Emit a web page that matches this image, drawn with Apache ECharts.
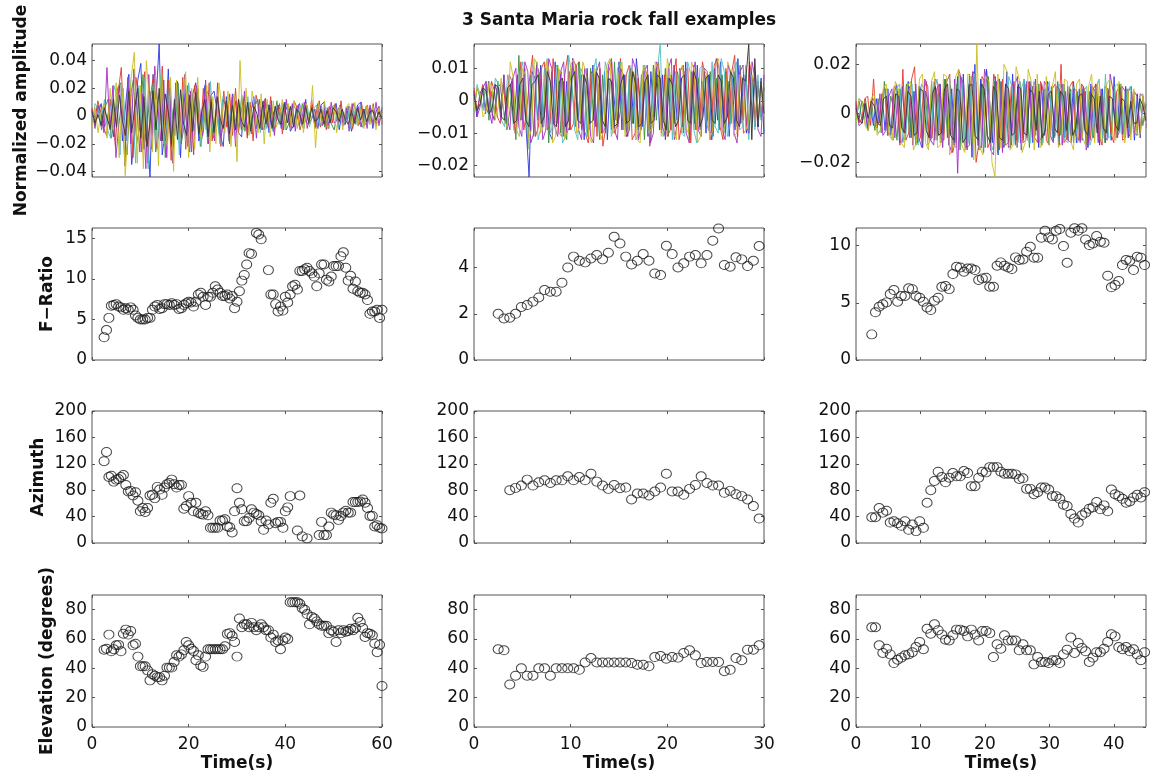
<!DOCTYPE html>
<html>
<head>
<meta charset="utf-8">
<script src="https://cdn.jsdelivr.net/npm/echarts@6/dist/echarts.min.js"></script>
<style>
  html, body { margin: 0; padding: 0; background: #fff; }
  #chart { width: 1158px; height: 779px; }
</style>
</head>
<body>
<div id="chart"></div>
<script>
// ---------------------------------------------------------------
// Data: three rock-fall events recorded at Santa Maria.
// Record lengths (s) and time-axis ticks for each event.
const durations = [60, 30, 45];
const timeTicks = [[0, 20, 40, 60], [0, 10, 20, 30], [0, 10, 20, 30, 40]];
// Analysis windows: first window centre and hop (s) for each event.
const windowStart = [2.5, 2.5, 2.45];
const windowStep = [0.5, 0.6, 0.572];

// Normalized amplitude of the station traces, in units of 1e-3.
const AMP_UNIT = 0.001;
const traceColors = ['#2a35e6', '#3b8c3b', '#e2382a', '#4fbcc4', '#a42cc2', '#c9bd1e', '#3e3e3e'];

const wave1 = [
  [4,-7,2,9,-8,-3,12,-15,6,22, -18,8,30,-35,-12,26,38,-24,-6,-44, 30,12,52,-28,-10,34,-22,4,25,-30,
   20,-6,-26,16,24,-18,-8,22,-20,15, 18,3,-14,-22,14,-6,16,10,-12,-15, 8,-10,2,14,-9,-6,11,7,-12,6,
   -3,8,-9,10,4,-11,-7,6,9,-8, 12,-6,-2,5,-9,8,10,-7,-3,6, 9,-10,4,-6,7,-11,-2,8,10,-7, -5,6,-9,3,7,-4],
  [-5,3,8,-10,6,12,-16,-4,20,24, -9,-28,14,26,-20,-8,30,-18,12,22, -26,-10,28,-30,18,6,-14,24,-20,-6,
   22,-16,10,20,-22,-10,18,14,-16,4, -14,12,8,-18,10,-3,-8,15,-11,9, -13,7,12,-6,-10,9,5,-8,11,-6,
   7,-10,-4,8,5,-7,9,-4,-6,8, -9,3,7,-8,6,-5,-10,4,8,-7, 6,-5,9,2,-6,-8,7,-4,6,-5, 4,-6],
  [6,-4,11,3,-9,-14,12,5,-22,18, 35,-14,-8,20,-30,28,10,-26,32,-34, 14,30,-22,-10,36,-18,26,-32,2,20,
   -12,28,-24,16,-26,22,8,-14,20,-10, 24,-18,-4,12,-22,18,-8,16,-14,20, -12,4,14,-16,10,-18,15,6,-10,12,
   -8,14,-11,-3,9,-13,10,7,-9,11, 6,-10,-2,8,-5,12,-7,9,-8,4, -10,7,-5,9,-8,11,-6,3,7,-9, 5,-7,10,-6,8,-4,9,-7,6,-5],
  [-7,9,5,-5,12,-10,-16,22,14,-28, 20,-18,30,8,-34,22,-14,28,-38,18, 24,-24,30,-20,-6,26,-12,22,-28,16,
   -18,24,4,-10,20,-22,12,-16,25,-14, 10,-20,14,9,-9,12,-15,8,-12,-4, 14,-11,7,10,-12,6,-9,8,-11,7,
   -6,9,-10,6,4,-8,7,-5,-9,8, -6,5,8,-7,-4,6,-9,7,4,-8, 6,-5,7,-9,4,-6,8,-7,5,-6, 7,-4,-5,6],
  [5,-9,7,2,-12,35,-10,22,-30,-6, 12,-36,28,-20,34,10,-26,16,-38,30, -24,36,8,-18,26,-30,20,-34,24,-4,
   -16,30,-22,18,-28,22,6,-14,26,-20, 12,-18,24,-16,-6,10,-20,14,-22,12, -10,18,-14,4,9,-16,12,-10,13,-8,
   11,-14,7,5,-10,12,-6,9,-11,8, -6,10,-9,3,5,-8,11,-7,6,-9, 10,-5,-3,8,-7,6,-11,9,-6,7, -8,5,-9,8,-6,10,-7,6],
  [-8,6,-12,3,9,-16,20,-10,24,-30, 18,-43,-8,28,46,-34,22,-38,40,10, -26,30,-36,34,-6,-22,28,-40,26,-18,
   12,32,-30,20,-24,28,-16,-4,22,-26, 14,-20,24,6,-12,18,-22,16,-33,40, -10,20,-14,18,4,-12,16,-20,12,-15,
   11,-8,-2,12,-10,9,-7,11,-9,6, -12,9,-8,22,-23,10,-6,11,-9,-4, 8,-12,7,-10,6,9,-8,10,-7,5, -9,8,-6,7,-10,6,-5],
  [3,-5,1,-7,6,-2,-9,12,-8,15, -4,-14,18,-12,6,20,-16,14,-22,-5, 18,-10,20,-18,16,3,-20,12,-17,19,
   -6,-14,15,-11,17,-13,4,12,-15,10, -12,14,-2,-9,11,-13,8,-10,12,-4, -8,10,-11,7,2,-9,10,-6,8,-9,
   7,-3,-6,9,-5,7,-8,5,2,-6, 7,-5,6,-4,-2,5,-6,4,-5,6, 3,-4,5,-3,-6,4,-5,6,-3,5, -4,3,4,-3,3,-2]
];
const wave2 = [
  [3,-5,2,4,-4,6,-3,-6,4,5, -2,-7,3,6,-4,8,-6,5,-9,-23.5, 9,7,-6,11,-8,4,-10,-12,12,-7,
   9,-11,6,-9,13,2,-5,8,-12,10, -7,11,-8,5,-10,9,-12,7,4,-6, 12,-9,8,-11,10,-7,13,3,-8,6,
   -11,9,-5,10,-9,8,-12,7,-9,11, -6,10,-8,12,-10,9,-7,11,-9,6, -10,8,-12,10,-6,12,-8,9,-11,7, -9,13,-7,8,-10,11,-6,9,-8,7,-10],
  [-3,4,1,-2,5,-6,3,-4,6,-5, 8,-9,-3,7,-12,14,-6,10,-15,8, -11,12,5,-8,10,-13,9,-7,11,-10,
   6,-12,9,2,-8,12,-9,7,-11,10, -6,9,-12,8,-10,7,-9,12,-8,-3, 6,-11,9,-7,10,-9,8,-12,7,-10,
   11,-6,9,-8,10,-11,8,-7,9,4, -10,6,-12,8,-9,7,-8,10,-6,9, -11,7,-9,8,-10,6,-7,9,-8,11, -6,8,-9,7,-6,5,-5,4],
  [4,-3,1,5,-2,-4,6,3,-5,-7, 5,-4,8,6,-10,-5,12,-9,-3,7, 14,-11,-8,10,12,-9,-7,13,4,-10,
   -11,8,14,-9,-7,11,12,-8,-10,-13, 9,7,-11,10,-14,-8,9,12,-10,-7, 13,-9,8,11,-12,-10,7,-9,11,8,
   -14,-6,9,12,-10,8,-11,-9,7,13, -12,-7,9,10,-13,11,-9,-8,12,7, -9,-10,11,13,-8,-12,10,-7,9,14, -11,8,-10,-9,12,7,-8,6,-5,4],
  [-4,5,2,-3,6,-5,-4,7,5,-6, -8,8,3,-9,-10,8,12,-7,-9,11, 10,-12,-8,9,13,-10,-7,11,9,-13,
   -11,14,8,-9,-12,10,7,-11,-8,9, 13,-10,-9,12,8,-11,-7,10,12,-9, -8,11,9,-12,-10,8,11,-9,-12,10,
   9,17.5,-11,-8,10,-12,9,7,-10,-11, 12,8,-9,-13,10,11,-7,-9,12,-8, -10,13,9,-11,-7,10,12,-9,-8,11, -12,7,-9,8,-6,5],
  [3,-5,-2,4,6,-3,-7,5,2,-6, 8,-5,-9,7,10,-8,-11,12,9,-13, -10,11,8,-12,-9,13,10,-8,-11,9,
   12,-10,-8,13,11,-9,-12,10,7,-11, -13,9,12,-10,-8,11,13,-9,-12,10, 8,-11,-9,13,10,-12,-8,9,11,-13,
   -10,12,9,-8,-11,10,13,-12,-7,9, 11,-10,-13,8,12,-9,-11,10,9,-12, -8,13,10,-9,-12,11,8,-10,-13,9, 11,-8,-10,12,7,-9,-11,8],
  [-3,4,2,-5,-3,6,4,-6,-2,7, -6,-8,12,7,-9,-11,10,8,-12,-9, 13,11,-10,-8,12,9,-13,-11,10,8,
   -12,-9,11,13,-10,-8,12,9,-11,-13, 10,8,-12,-9,11,13,-10,-8,9,12, -11,-9,10,8,-12,-13,11,9,-10,-8,
   12,10,-11,-9,13,8,-10,-12,9,11, -8,-10,12,9,-13,-11,10,8,-12,-9, 11,13,-10,-8,12,9,-11,-10,8,7, -9,-6,8,5,-7,6,-5],
  [2,-3,-1,4,3,-4,-2,5,4,-5, -6,4,5,-7,-6,5,7,-6,-8,5, 6,8,-7,-5,9,6,-7,-8,6,7,
   -8,-6,7,9,-6,-7,8,5,-7,-6, 9,7,-6,-8,7,6,-8,-7,5,8, -7,-6,9,5,-8,-7,6,8,-7,-6,
   8,7,-6,-9,7,5,-8,-6,7,8, -6,-7,9,6,-8,-5,7,8,-6,-7, 8,6,-7,-5,9,7,-6,-8,7,6, 17.5,-12,13,-8,6,-4]
];
const wave3 = [
  [4,-3,5,2,-6,3,-5,6,-4,8, -7,10,-9,7,12,-12,11,-8,13,-10, 9,-12,11,-14,9,4,-10,13,-11,12,
   -9,14,-13,10,-12,15,-11,16,-14,12, -18,20,-13,14,-16,18,6,-12,15,-17, 13,-14,17,-11,16,-13,12,-15,14,-10,
   13,-12,11,-14,12,-9,13,5,-11,10, -13,12,-10,11,-9,13,-12,10,-11,9, -14,12,-10,11,-13,10,-12,9,-11,15, -10,12,-9,11,-10,9,-11,8,-10,7,-6],
  [-3,5,-4,6,-5,4,-7,6,-8,13, -9,7,2,-11,10,-8,12,-10,9,-13, 11,-12,9,-10,13,-11,8,-12,14,-10,
   11,-13,12,-15,11,-14,16,-12,13,-15, 12,-14,15,-11,13,-16,12,-13,11,-14, 12,-11,13,-10,12,-14,11,-9,12,-13,
   10,-12,11,-10,13,-9,12,-11,10,-12, 9,-11,10,-13,9,-10,12,-11,8,-12, 10,-9,11,-10,12,-8,10,-9,8,-7, 6,-5,4],
  [5,-4,-2,6,7,-5,14,-6,-3,8, 10,-9,-7,11,10,-13,18,-11,-8,14, 19,-12,-10,9,13,-11,-10,14,12,-10,
   -11,13,16,-16,-11,18,14,-13,-15,12, 17,-20,-12,15,13,-14,-11,16,12,-15, 14,-13,-12,11,13,-14,10,-12,-11,13,
   11,-10,-12,13,9,-11,-13,10,12,-9, 20,-12,-10,11,13,-9,-11,12,10,-12, -11,10,12,-9,-13,11,10,-8,-12,9, 11,-11,-10,9,11,-8,-9,8,7,-6],
  [-5,6,4,-4,-7,6,5,-8,-7,9, 10,-9,-11,10,12,-12,-9,10,12,-11, -13,12,10,-13,-11,9,14,-12,-10,13,
   15,-12,-14,16,13,-15,-12,14,16,-13, -15,14,13,-12,-15,11,14,-13,-12,15, 11,-13,-12,10,14,-11,-12,13,10,-12,
   -11,10,13,-11,-9,12,10,-11,-12,9, 11,-12,-10,9,11,-13,-9,10,14,-11, 16,-10,-9,11,12,-8,-10,9,11,-8, -9,7,8,-6],
  [3,-5,-4,4,-7,5,6,-6,8,-9, -7,7,10,-10,9,-12,-10,8,11,-13, 12,-10,-14,14,11,-11,-13,10,12,-14,
   13,-12,-16,14,-24.5,15,12,-14,-13,17, 16,-13,-14,18,12,-15,-17,13,14,-16, 12,-14,-13,11,15,-12,-11,13,12,-10,
   14,-12,-10,13,11,-9,-12,11,10,-13, 9,-11,-12,10,9,-12,11,-15,-10,11, 9,-12,10,-9,-11,16,9,-10,-8,11, 9,-10,-8,9,7,-8,6,-5],
  [-4,6,5,-5,-7,6,8,-9,-7,10, 12,-9,-11,13,10,-12,-14,11,13,-15, -12,14,16,-12,-15,13,17,-14,-13,16,
   15,-17,-14,15,18,-13,-16,16,15,-19, 28.3,-14,-17,15,13,-20,-26,16,-14,20, 17,-15,-13,19,14,-16,-12,18,13,-15,
   16,-14,-12,15,-13,11,17,-14,-12,14, 13,-11,-15,12,14,-10,-13,11,16,-12, 13,-11,-10,12,14,-9,-11,13,10,-12, 9,-11,10,-8,-9,7,-6],
  [2,-3,-4,4,-2,5,3,-4,-5,6, 7,-5,-6,8,7,-6,-8,9,7,-9, -8,10,9,-7,-10,8,11,-9,-8,10,
   12,-9,-11,10,9,-12,-10,11,12,-9, -11,12,10,-9,-12,11,9,-10,-11,12, 10,-9,-8,11,10,-8,-9,10,8,-7,
   9,-10,-7,8,9,-6,-8,9,7,-7, 8,-9,-6,7,8,-7,-9,8,6,-8, 7,-6,-8,7,6,-5,-7,6,5,-6, 5,-4,-4,6,3,-3]
];
const ampTicks = [[-0.04, -0.02, 0, 0.02, 0.04], [-0.02, -0.01, 0, 0.01], [-0.02, 0, 0.02]];

// F-ratio per analysis window (null: no estimate).
const fRatio1 = [2.8,3.7,5.2,6.7,6.8,6.9,6.6,6.5,6.2,6.4,
  6.2,6.5,6.2,5.5,5.2,5.0,5.0,5.0,5.2,5.2,
  6.2,6.6,6.8,6.3,6.4,6.9,6.9,6.8,7.0,6.8,
  6.9,6.3,6.4,6.8,7.0,7.2,7.1,6.6,7.2,8.1,
  8.3,7.8,6.8,7.8,7.8,8.3,9.1,8.7,8.3,7.9,
  7.9,8.1,7.6,7.9,6.4,7.2,8.5,9.8,10.5,11.8,
  13.2,13.1,null,15.7,15.5,14.9,null,null,11.1,8.1,
  8.1,6.9,6.0,6.6,6.1,7.8,7.1,8.1,9.1,9.3,
  8.7,11.0,11.0,11.2,11.4,11.0,10.7,10.3,9.1,10.7,
  11.8,11.8,9.9,9.7,10.3,11.6,11.6,11.6,12.8,13.3,
  11.4,9.8,10.4,8.8,9.7,8.5,8.3,8.3,8.1,7.4,
  5.7,6.0,6.0,6.2,5.2,6.2];
const fRatio2 = [2.0,1.8,1.83,2.0,2.3,2.38,2.53,2.71,3.03,2.96,2.96,3.35,4.01,4.48,4.3,4.23,4.4,4.55,4.36,4.65,
  5.34,5.05,4.48,4.14,4.3,4.59,4.3,3.75,3.68,4.95,4.59,4.01,4.19,4.48,4.55,4.19,4.55,5.17,5.70,4.12,
  4.04,4.45,4.36,4.07,4.3,4.94];
const fRatio3 = [2.24,4.17,4.66,4.87,5.04,5.77,6.12,5.1,5.6,5.6,6.27,6.2,5.6,5.45,5.1,4.6,4.37,5.19,5.45,6.41,
  6.47,6.2,7.52,8.16,8.1,7.73,8.0,8.0,7.87,7.0,7.14,7.2,6.41,6.41,8.25,8.54,8.25,8.1,7.96,8.98,
  8.75,8.8,9.48,9.91,8.95,8.95,10.7,11.31,10.73,10.55,11.31,11.46,9.97,8.51,11.14,11.52,11.31,11.52,10.55,10.06,
  10.2,10.85,10.35,10.26,7.38,6.36,6.56,6.91,8.31,8.75,8.69,7.87,9.04,8.95,8.31];
const fRatioMax = [16.3, 5.72, 11.55];
const fRatioTicks = [[0, 5, 10, 15], [0, 2, 4], [0, 5, 10]];

// Back-azimuth (degrees) per window; null where it falls outside 0-200.
const azimuth1 = [124,138,100,102,93,96,97,100,103,88,
  78,79,72,77,64,48,53,47,53,72,
  73,68,85,81,73,84,89,91,96,89,
  84,88,88,52,56,71,61,48,61,46,
  44,43,48,42,23,23,23,23,34,34,
  36,25,24,16,48,83,61,51,33,33,
  38,51,46,44,42,33,20,34,28,61,
  67,30,32,32,23,48,54,71,null,null,
  19,72,10,null,7,null,null,null,null,12,
  32,12,12,25,46,43,42,35,41,46,
  49,46,46,62,62,62,63,66,61,53,
  41,41,25,27,23,22];
const azimuth2 = [null,null,80,83.5,87,96,87,92,95,91,95,95,101,95,100,95,105,93,87,82,
  88,83,84,66,75,75,72,78,84,105,78,78,73,82,88,101,91,87,87,76,
  79,74,71,66,56,37];
const azimuth3 = [39,39,53,46,49,31,33,30,26,33,20,28,18,33,23,61,80,94,108,100,
  92,99,106,101,101,109,106,86,86,99,108,107,115,115,115,108,105,105,105,104,
  97,98,82,82,74,77,84,84,81,71,71,67,58,56,44,37,31,42,46,52,
  54,62,51,57,48,81,74,71,67,61,63,69,73,69,77];
const azimuthTicks = [0, 40, 80, 120, 160, 200];

// Incidence elevation (degrees) per window.
const elevation1 = [52.7,53.4,63,51.6,53,55.7,56,51.6,63.6,66.4,
  63,65.5,55.7,56.8,48,41.4,41.4,41.4,38.6,31.8,
  36,35,34,34,31.8,35,40.5,40.5,40.5,44.3,
  48.9,48,49.5,52.3,58,55.7,53.4,51.8,45.5,48.9,
  42,41,48,53,53,53,53,53,53,53,
  55,63.5,64,62,58,48,74,68,70,70,
  68,71,68,66,68,70,68,66,66,61,
  63,58,59,53,59,61,60,85,85,85,
  85,84,81,80,77,70,75,74,72,70,
  69,69,69,64,66,65,58,66,64,66,
  65,65.5,67,66,67.5,74.5,71.6,67.5,61.4,64,
  63.6,62.5,57,51,56,28];
const elevation2 = [53,52.3,29,35,40,35,35,40,40,35,40,40,40,40,39,44,47,44,44,44,
  44,44,44,43.6,42.5,42.5,41.4,47.7,48.4,46.6,47.7,47.3,50.5,52.3,48.9,43.6,44.3,44.3,44.3,38,
  39,47,45.5,52.7,52.7,55.7];
const elevation3 = [68,68,55.7,50.5,53.4,49.5,43.6,45.9,47.3,48.9,49.5,51,54.5,58,53,67,63.6,70,66,63,
  59.5,59,62.5,66.4,66.4,65.5,61.8,66.4,63,59,65.5,65.5,64,47.7,56.4,53.4,62.5,59,59,59,
  52.3,56.4,52.3,52.3,42.7,47.7,44.3,44.3,43.6,45.5,45.5,43.6,49.5,52.7,61,50.5,57.3,53.9,51.6,44.3,
  47.3,51,51,53.4,58,63.2,61.8,54.5,53,54.5,51.6,53,49.5,45.5,51];
const elevationTicks = [0, 20, 40, 60, 80];

const rowLabels = ['Normalized amplitude', 'F\u2212Ratio', 'Azimuth', 'Elevation (degrees)'];
const titleText = '3 Santa Maria rock fall examples';

// ---------------------------------------------------------------
// Layout and styling
const FONT = '"DejaVu Sans", sans-serif';
const AXIS_COLOR = '#555';
const TEXT_COLOR = '#111';
const COL_LEFT = [92, 474, 856];
const COL_WIDTH = 290;
const ROW_TOP = [44, 228, 411, 595];
const ROW_HEIGHT = [133, 132, 132, 132];
const Y_NAME_GAP = [62, 36, 45, 36];

const waves = [wave1, wave2, wave3];
const fRatios = [fRatio1, fRatio2, fRatio3];
const azimuths = [azimuth1, azimuth2, azimuth3];
const elevations = [elevation1, elevation2, elevation3];

function fmt(v) { return v === 0 ? '0' : String(v).replace('-', '\u2212'); }

function windowTimes(col, n) {
  const t = [];
  for (let i = 0; i < n; i++) t.push(windowStart[col] + i * windowStep[col]);
  return t;
}

const grids = [], xAxes = [], yAxes = [], series = [];
const tickStyle = { inside: true, length: 3, lineStyle: { color: AXIS_COLOR, width: 1 } };
const labelFont = { fontFamily: FONT, fontSize: 17, color: TEXT_COLOR };
const nameFont = { fontFamily: FONT, fontSize: 17, fontWeight: 'bold', color: TEXT_COLOR };

function addPanel(row, col, yMin, yMax, yTicks) {
  const gi = grids.length;
  grids.push({
    left: COL_LEFT[col], top: ROW_TOP[row], width: COL_WIDTH, height: ROW_HEIGHT[row],
    show: true, borderColor: AXIS_COLOR, borderWidth: 1, backgroundColor: '#fff'
  });
  const xt = timeTicks[col];
  ['bottom', 'top'].forEach((pos, k) => {
    const labelled = k === 0 && row === 3;
    xAxes.push({
      type: 'value', gridIndex: gi, position: pos, min: 0, max: durations[col],
      axisLine: { show: false, onZero: false }, splitLine: { show: false },
      axisTick: Object.assign({ customValues: xt }, tickStyle),
      axisLabel: Object.assign({ show: labelled, customValues: xt, formatter: fmt, margin: 9 }, labelFont),
      name: labelled ? 'Time(s)' : '', nameLocation: 'middle', nameGap: 28, nameTextStyle: nameFont
    });
  });
  ['left', 'right'].forEach((pos, k) => {
    const named = k === 0 && col === 0;
    yAxes.push({
      type: 'value', gridIndex: gi, position: pos, min: yMin, max: yMax,
      axisLine: { show: false, onZero: false }, splitLine: { show: false },
      axisTick: Object.assign({ customValues: yTicks }, tickStyle),
      axisLabel: Object.assign({ show: k === 0, customValues: yTicks, formatter: fmt, margin: 5 }, labelFont),
      name: named ? rowLabels[row] : '', nameLocation: 'middle', nameRotate: 90,
      nameGap: Y_NAME_GAP[row], nameTextStyle: nameFont
    });
  });
  return gi;
}

function addScatter(gi, col, values) {
  const t = windowTimes(col, values.length);
  const pts = [];
  values.forEach((v, i) => { if (v !== null) pts.push([t[i], v]); });
  series.push({
    type: 'scatter', xAxisIndex: 2 * gi, yAxisIndex: 2 * gi, data: pts,
    symbol: 'circle', symbolSize: [10, 9], clip: true, silent: true,
    itemStyle: { color: 'rgba(0,0,0,0)', borderColor: '#1a1a1a', borderWidth: 1 },
    emphasis: { disabled: true }
  });
}

for (let col = 0; col < 3; col++) {
  // station waveforms
  const w = waves[col];
  let lo = Infinity, hi = -Infinity;
  w.forEach(tr => tr.forEach(v => { lo = Math.min(lo, v); hi = Math.max(hi, v); }));
  const g0 = addPanel(0, col, lo * AMP_UNIT, hi * AMP_UNIT, ampTicks[col]);
  w.forEach((tr, k) => {
    const n = tr.length;
    series.push({
      type: 'line', xAxisIndex: 2 * g0, yAxisIndex: 2 * g0,
      data: tr.map((v, i) => [i * durations[col] / (n - 1), v * AMP_UNIT]),
      showSymbol: false, symbol: 'none', silent: true, clip: true,
      lineStyle: { color: traceColors[k], width: k === 6 ? 1 : 0.9 },
      emphasis: { disabled: true }
    });
  });
  // F-ratio, azimuth, elevation
  addScatter(addPanel(1, col, 0, fRatioMax[col], fRatioTicks[col]), col, fRatios[col]);
  addScatter(addPanel(2, col, 0, 200, azimuthTicks), col, azimuths[col]);
  addScatter(addPanel(3, col, 0, 90, elevationTicks), col, elevations[col]);
}

const chart = echarts.init(document.getElementById('chart'), null, { renderer: 'canvas' });
chart.setOption({
  backgroundColor: '#fff',
  animation: false,
  grid: grids,
  xAxis: xAxes,
  yAxis: yAxes,
  series: series,
  graphic: [{
    type: 'text', x: 619, y: 21, silent: true,
    style: { text: titleText, align: 'center', verticalAlign: 'middle',
      font: 'bold 17px ' + FONT, fill: TEXT_COLOR }
  }]
});
</script>
</body>
</html>
